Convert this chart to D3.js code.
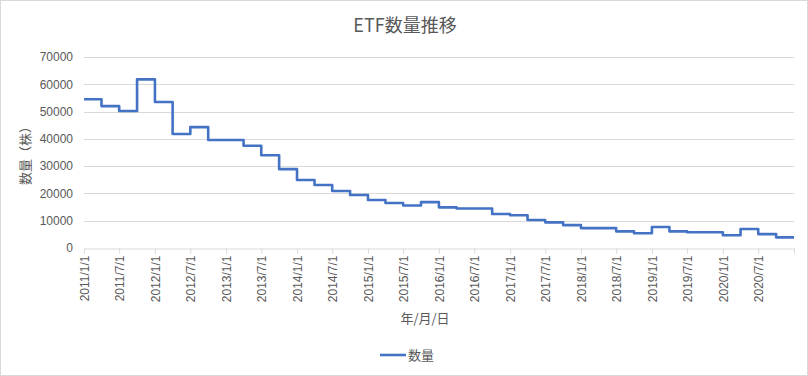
<!DOCTYPE html>
<html>
<head>
<meta charset="utf-8">
<script src="https://cdn.jsdelivr.net/npm/d3@7"></script>
<style>
    body { margin: 0; background: #fff; }
    svg { display: block; }
    text { font-family: "Liberation Sans", "Noto Sans CJK JP", sans-serif; fill: #595959; }
    .cjk { font-family: "Noto Sans CJK JP", sans-serif; }
</style>
</head>
<body>
<div id="chart"></div>
<script>
// 四半期ごとのETF数量
const quarters = [
    '2011-01-01', '2011-04-01', '2011-07-01', '2011-10-01',
    '2012-01-01', '2012-04-01', '2012-07-01', '2012-10-01',
    '2013-01-01', '2013-04-01', '2013-07-01', '2013-10-01',
    '2014-01-01', '2014-04-01', '2014-07-01', '2014-10-01',
    '2015-01-01', '2015-04-01', '2015-07-01', '2015-10-01',
    '2016-01-01', '2016-04-01', '2016-07-01', '2016-10-01',
    '2017-01-01', '2017-04-01', '2017-07-01', '2017-10-01',
    '2018-01-01', '2018-04-01', '2018-07-01', '2018-10-01',
    '2019-01-01', '2019-04-01', '2019-07-01', '2019-10-01',
    '2020-01-01', '2020-04-01', '2020-07-01', '2020-10-01'
]
const counts = [
    54500, 52000, 50200, 61800,
    53500, 41800, 44300, 39600,
    39600, 37500, 34000, 28900,
    24900, 23100, 20900, 19400,
    17600, 16500, 15600, 16800,
    14900, 14500, 14500, 12450,
    12000, 10250, 9400, 8400,
    7300, 7300, 6100, 5400,
    7700, 6100, 5750, 5750,
    4650, 6950, 5100, 3900
]
const axisStart = '2011-01-01'
const axisEnd = '2021-01-01'
const yTicks = [0, 10000, 20000, 30000, 40000, 50000, 60000, 70000]

const title = 'ETF数量推移'
const yTitle = '数量（株）'
const xTitle = '年/月/日'
const seriesName = '数量'

const width = 808, height = 376
const margin = { left: 84, right: 14, top: 57, bottom: 128 }
const parse = d3.timeParse('%Y-%m-%d')

const svg = d3.select('#chart').append('svg')
    .attr('width', width)
    .attr('height', height)

// 外枠
svg.append('rect')
    .attr('x', 0.5).attr('y', 0.5)
    .attr('width', width - 1).attr('height', height - 1)
    .attr('fill', '#fff')
    .attr('stroke', '#d9d9d9')

const x = d3.scaleTime()
    .domain([parse(axisStart), parse(axisEnd)])
    .range([margin.left, width - margin.right])

const y = d3.scaleLinear()
    .domain([0, 70000])
    .range([height - margin.bottom, margin.top])

// グリッド線
svg.append('g')
    .selectAll('line')
    .data(yTicks.slice(1))
    .enter()
    .append('line')
    .attr('x1', x.range()[0])
    .attr('x2', x.range()[1])
    .attr('y1', d => Math.round(y(d)) + 0.5)
    .attr('y2', d => Math.round(y(d)) + 0.5)
    .attr('stroke', '#d9d9d9')

// y軸ラベル
const yAxis = svg.append('g')
    .attr('transform', `translate(${x.range()[0]},0)`)
    .call(d3.axisLeft(y).tickValues(yTicks).tickSize(0).tickPadding(11).tickFormat(d3.format('d')))
yAxis.select('.domain').remove()
yAxis.selectAll('text').attr('font-size', 12).attr('font-family', null)

// x軸
const xTickDates = d3.timeMonth.every(6).range(parse(axisStart), d3.timeDay.offset(parse(axisEnd), 1))
const fmt = d3.timeFormat('%Y/%-m/%-d')
const xAxis = svg.append('g')
    .attr('transform', `translate(0,${Math.round(y(0)) + 0.5})`)
    .call(d3.axisBottom(x)
        .tickValues(xTickDates)
        .tickSize(5)
        .tickSizeOuter(0)
        .tickFormat((d, i) => i === xTickDates.length - 1 ? '' : fmt(d)))
xAxis.select('.domain').attr('stroke', '#d9d9d9')
xAxis.selectAll('.tick line').attr('stroke', '#d9d9d9')
xAxis.selectAll('text')
    .attr('font-size', 12)
    .attr('font-family', null)
    .attr('transform', 'rotate(-90)')
    .attr('text-anchor', 'end')
    .attr('x', -7)
    .attr('y', 0)
    .attr('dy', '0.35em')

// 階段状の折れ線
const series = quarters.map((d, i) => ({ date: parse(d), value: counts[i] }))
series.push({ date: parse(axisEnd), value: counts[counts.length - 1] })

const line = d3.line()
    .x(d => x(d.date))
    .y(d => y(d.value))
    .curve(d3.curveStepAfter)

svg.append('path')
    .datum(series)
    .attr('fill', 'none')
    .attr('stroke', '#4472c4')
    .attr('stroke-width', 2.6)
    .attr('stroke-linejoin', 'round')
    .attr('d', line)

// タイトル
svg.append('text')
    .attr('class', 'cjk')
    .attr('x', 405)
    .attr('y', 32)
    .attr('text-anchor', 'middle')
    .attr('font-size', 18)
    .text(title)

// y軸タイトル
svg.append('text')
    .attr('class', 'cjk')
    .attr('transform', `translate(30,${(y(0) + y(70000)) / 2}) rotate(-90)`)
    .attr('text-anchor', 'middle')
    .attr('font-size', 13)
    .text(yTitle)

// x軸タイトル
svg.append('text')
    .attr('class', 'cjk')
    .attr('x', 425)
    .attr('y', 323)
    .attr('text-anchor', 'middle')
    .attr('font-size', 13)
    .text(xTitle)

// 凡例
const legend = svg.append('g').attr('transform', 'translate(380,355)')
legend.append('line')
    .attr('x1', 0).attr('x2', 26)
    .attr('y1', 0).attr('y2', 0)
    .attr('stroke', '#4472c4')
    .attr('stroke-width', 2.6)
legend.append('text')
    .attr('class', 'cjk')
    .attr('x', 28)
    .attr('y', 0)
    .attr('dy', '0.35em')
    .attr('font-size', 13)
    .text(seriesName)
</script>
</body>
</html>
